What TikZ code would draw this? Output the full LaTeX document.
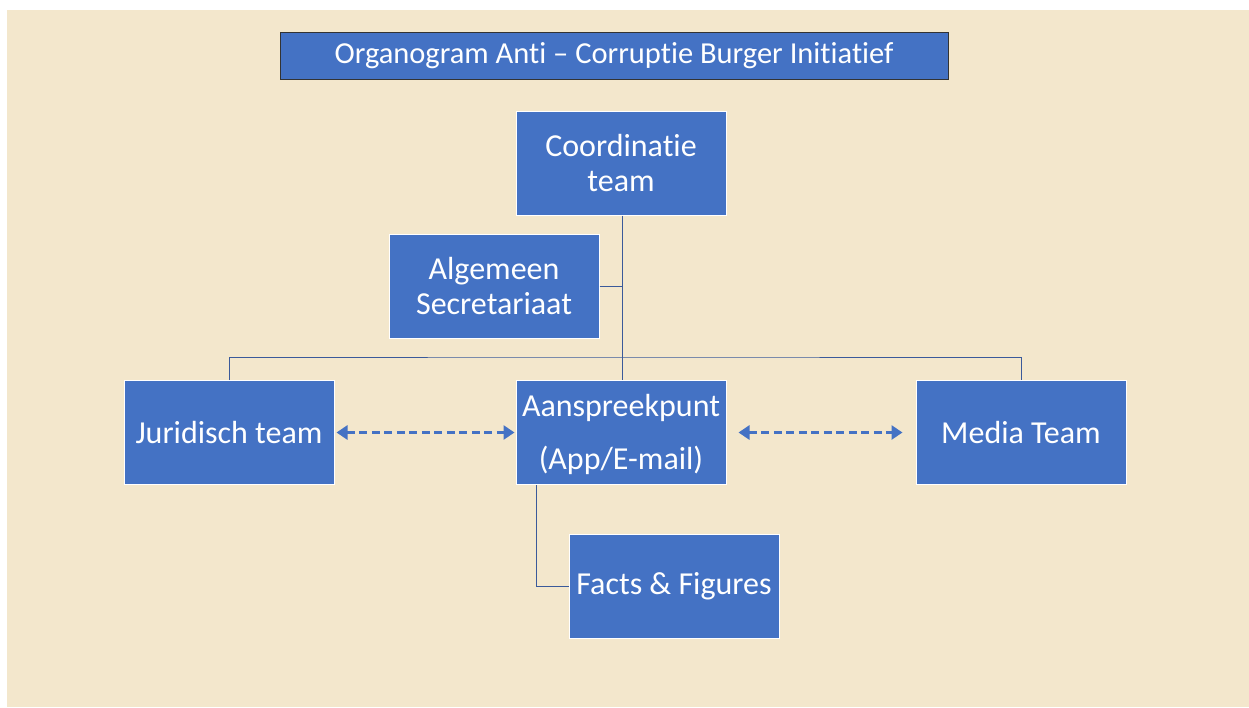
\documentclass[tikz,border=0pt]{standalone}
\usepackage{fontspec}
\setmainfont[Ligatures={NoCommon}]{Carlito}
\usetikzlibrary{arrows.meta}
\definecolor{cream}{HTML}{F3E7CC}
\definecolor{boxblue}{HTML}{4472C4}
\definecolor{linec}{HTML}{3A5A9A}
\tikzset{
  orgbox/.style={draw=white, line width=1pt, fill=boxblue, text=white, minimum width=210pt, minimum height=104pt, inner sep=0pt, align=center, font=\fontsize{32}{35}\selectfont},
  boxtext/.style={text=white, inner sep=0pt, align=center, font=\fontsize{32}{35}\selectfont},
  conn/.style={draw=linec, line width=1pt},
  dasharrow/.style={draw=boxblue, line width=3.5pt, dash pattern=on 8pt off 4.5pt, {Triangle[length=11pt,width=14pt]}-{Triangle[length=11pt,width=14pt]}}
}
\begin{document}
\begin{tikzpicture}[x=1pt,y=-1pt]
\useasboundingbox (0,0) rectangle (1249,707);
\fill[white] (0,0) rectangle (1249,707);
\fill[cream] (7,10) rectangle (1249,707);
\node[draw=black!80, line width=0.8pt, fill=boxblue, text=white, minimum width=668pt, minimum height=47pt, inner sep=0pt, font=\fontsize{30.5}{34}\selectfont] (title) at (614,55.5) {Organogram Anti – Corruptie Burger Initiatief};
\node[orgbox] (coord) at (621,163) {Coordinatie\\team};
\node[orgbox] (secr) at (494,286) {Algemeen\\Secretariaat};
\node[orgbox] (jur) at (229,432.5) {Juridisch team};
\node[orgbox] (aans) at (621,432.5) {};
\node[boxtext] (aanstext) at (621,434.5) {Aanspreekpunt\\[18pt](App/E-mail)};
\node[orgbox] (media) at (1021,432.5) {Media Team};
\node[orgbox] (facts) at (674,586) {Facts \& Figures};
\coordinate (hub) at (622,357);
\draw[conn] (coord.south -| hub) -- (aans.north -| hub);
\draw[conn] (secr.east) -- (secr.east -| hub);
\draw[conn] (jur.north) |- (hub) -| (media.north);
\draw[conn] ([xshift=-85pt]aans.south) |- (facts.west);
\draw[dasharrow] ([xshift=2pt]jur.east) -- ([xshift=-1pt]aans.west);
\draw[dasharrow] ([xshift=12pt]aans.east) -- ([xshift=-13pt]media.west);
\end{tikzpicture}
\end{document}
